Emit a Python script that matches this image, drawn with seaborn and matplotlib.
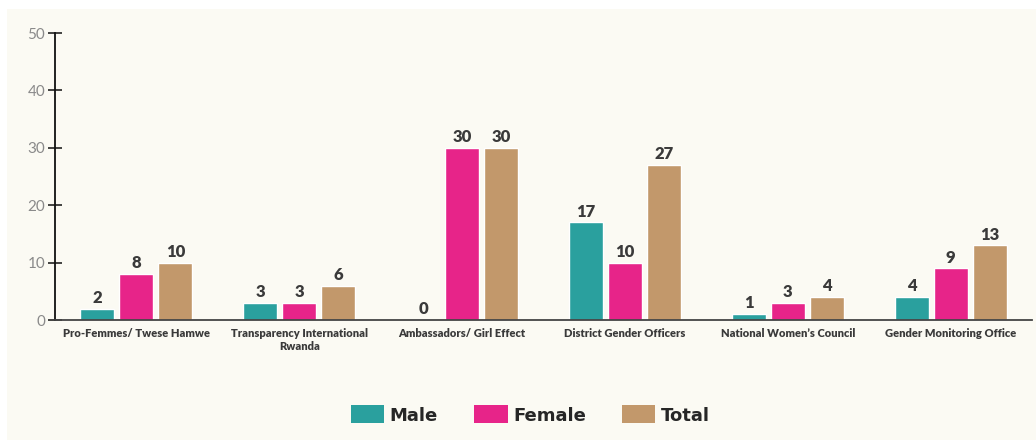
import matplotlib
matplotlib.use("Agg")
import matplotlib.pyplot as plt
import matplotlib.patches as mpatches
import seaborn as sns
import pandas as pd

categories = ["Pro-Femmes/ Twese Hamwe", "Transparency International\nRwanda",
              "Ambassadors/ Girl Effect", "District Gender Officers",
              "National Women\u2019s Council", "Gender Monitoring Office"]
male = [2, 3, 0, 17, 1, 4]
female = [8, 3, 30, 10, 3, 9]
total = [10, 6, 30, 27, 4, 13]
series = ["Male", "Female", "Total"]
colors = ["#2aa09e", "#e72489", "#c2986b"]
yticks = [0, 10, 20, 30, 40, 50]

rows = []
for i, c in enumerate(categories):
    for s, vals in zip(series, [male, female, total]):
        rows.append({"category": c, "series": s, "value": vals[i]})
df = pd.DataFrame(rows)

sns.set_theme(style="white")
plt.rcParams["font.family"] = ["Lato", "DejaVu Sans"]

fig = plt.figure(figsize=(10.36, 4.4), dpi=100, facecolor="white")
bg = mpatches.Rectangle((7 / 1036, 0), 1 - 7 / 1036, 1 - 9 / 440,
                        transform=fig.transFigure, facecolor="#fbfaf3",
                        edgecolor="none", zorder=-10)
fig.patches.append(bg)

ax = fig.add_axes([55 / 1036, 120 / 440, (1032 - 55) / 1036, 287 / 440])
ax.set_facecolor("none")

sns.barplot(data=df, x="category", y="value", hue="series", hue_order=series,
            order=categories, palette=colors, width=0.72, gap=0.13,
            saturation=1, legend=False, ax=ax, errorbar=None)

for cont in ax.containers:
    ax.bar_label(cont, fmt="%d", padding=2, fontsize=12, fontweight="heavy",
                 color="#3a3a3a")

ax.set_xlim(-0.5, len(categories) - 0.5)
ax.set_ylim(0, 50)
ax.set_yticks(yticks)
ax.set_yticklabels([str(v) for v in yticks], color="#8a8a8a", fontsize=11)
ax.tick_params(axis="y", direction="inout", length=10, width=1.2,
               color="#222222", pad=2, left=True)
ax.tick_params(axis="x", length=0, pad=6)
for lab in ax.get_xticklabels():
    lab.set_fontsize(8)
    lab.set_fontweight("heavy")
    lab.set_color("#3a3a3a")
ax.set_xlabel("")
ax.set_ylabel("")

for s in ["top", "right"]:
    ax.spines[s].set_visible(False)
ax.spines["left"].set_color("#111111")
ax.spines["left"].set_linewidth(1.3)
ax.spines["bottom"].set_color("#444444")
ax.spines["bottom"].set_linewidth(1.3)

handles = [mpatches.Patch(facecolor=c, edgecolor="none", label=s)
           for s, c in zip(series, colors)]
fig.legend(handles=handles, loc="center", bbox_to_anchor=(0.512, 25 / 440),
           ncol=3, frameon=False, prop={"family": "DejaVu Sans", "weight": "bold", "size": 13},
           handlelength=1.85, handleheight=1.15, handletextpad=0.3,
           columnspacing=2.0)

fig.savefig("out.png", dpi=100, facecolor="white")
